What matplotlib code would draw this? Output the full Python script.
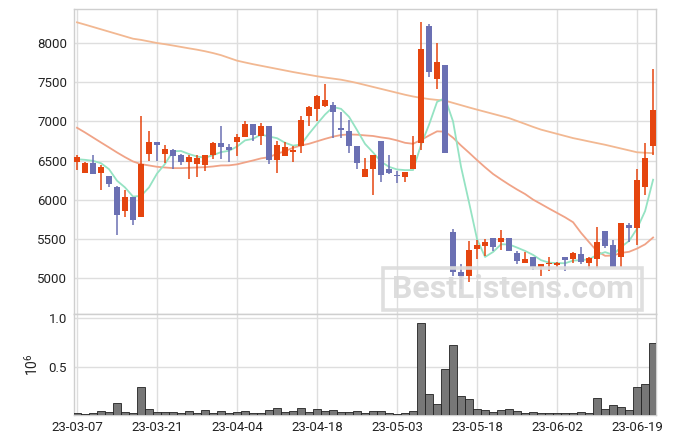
import matplotlib
matplotlib.use('Agg')
import matplotlib.pyplot as plt
import numpy as np
import pandas as pd
from matplotlib.patches import Rectangle

plt.rcParams['font.family'] = ['Roboto', 'DejaVu Sans']
plt.rcParams['mathtext.default'] = 'regular'

dates = ['23-03-07', '23-03-08', '23-03-09', '23-03-10', '23-03-13', '23-03-14', '23-03-15',
         '23-03-16', '23-03-17', '23-03-20', '23-03-21', '23-03-22', '23-03-23', '23-03-24',
         '23-03-27', '23-03-28', '23-03-29', '23-03-30', '23-03-31', '23-04-03', '23-04-04',
         '23-04-05', '23-04-06', '23-04-07', '23-04-10', '23-04-11', '23-04-12', '23-04-13',
         '23-04-14', '23-04-17', '23-04-18', '23-04-19', '23-04-20', '23-04-21', '23-04-24',
         '23-04-25', '23-04-26', '23-04-27', '23-04-28', '23-05-02', '23-05-03', '23-05-04',
         '23-05-08', '23-05-09', '23-05-10', '23-05-11', '23-05-12', '23-05-15', '23-05-16',
         '23-05-17', '23-05-18', '23-05-19', '23-05-22', '23-05-23', '23-05-24', '23-05-25',
         '23-05-26', '23-05-30', '23-05-31', '23-06-01', '23-06-02', '23-06-05', '23-06-07',
         '23-06-08', '23-06-09', '23-06-12', '23-06-13', '23-06-14', '23-06-15', '23-06-16',
         '23-06-19', '23-06-20', '23-06-21']

opens = [6476, 6348, 6467, 6348, 6306, 6157, 5863, 6038, 5778, 6587,
         6740, 6578, 6638, 6574, 6476, 6459, 6450, 6570, 6723, 6676,
         6736, 6804, 6966, 6816, 6936, 6502, 6565, 6617, 6680, 7063,
         7157, 7200, 7208, 6910, 6880, 6689, 6297, 6387, 6748, 6395,
         6312, 6297, 6399, 6723, 8217, 7540, 7719, 5586, 5076, 5033,
         5378, 5416, 5514, 5467, 5514, 5318, 5190, 5267, 5139, 5178,
         5169, 5267, 5241, 5305, 5199, 5250, 5603, 5420, 5276, 5680,
         5646, 6161, 6680]
closes = [6544, 6467, 6327, 6416, 6199, 5808, 6038, 5744, 6459, 6740,
          6693, 6651, 6553, 6476, 6544, 6536, 6570, 6723, 6668, 6629,
          6804, 6966, 6821, 6944, 6502, 6697, 6676, 6634, 7017, 7187,
          7323, 7276, 7115, 6900, 6680, 6475, 6395, 6570, 6314, 6348,
          6308, 6353, 6574, 7928, 7630, 7762, 6591, 5084, 5024, 5361,
          5425, 5459, 5403, 5514, 5352, 5224, 5246, 5148, 5178, 5195,
          5195, 5237, 5318, 5203, 5258, 5467, 5416, 5148, 5701, 5646,
          6255, 6531, 7149]
highs = [6574, 6476, 6574, 6446, 6306, 6170, 6127, 6038, 7072, 6880,
         6740, 6693, 6651, 6587, 6570, 6570, 6570, 6740, 6944, 6714,
         6838, 7004, 6966, 6980, 6936, 6744, 6736, 6680, 7063, 7200,
         7340, 7472, 7242, 7119, 7021, 6689, 6531, 6570, 6748, 6570,
         6370, 6353, 6808, 8268, 8247, 7996, 7719, 5625, 5178, 5471,
         5488, 5501, 5514, 5616, 5514, 5352, 5331, 5267, 5178, 5267,
         5210, 5267, 5331, 5395, 5275, 5659, 5603, 5488, 5701, 5700,
         6391, 6723, 7668]
lows = [6374, 6348, 6327, 6127, 6161, 5552, 5778, 5676, 5778, 6497,
        6497, 6467, 6391, 6446, 6263, 6289, 6361, 6519, 6519, 6480,
        6561, 6804, 6752, 6693, 6455, 6340, 6565, 6480, 6595, 6944,
        7008, 7180, 6787, 6782, 6595, 6391, 6290, 6063, 6225, 6330,
        6216, 6230, 6399, 6629, 7562, 7417, 6591, 5033, 4859, 4948,
        5241, 5284, 5352, 5361, 5352, 5178, 5190, 5105, 5029, 5092,
        5140, 5092, 5190, 5180, 5114, 5130, 5380, 5148, 5148, 5459,
        5425, 6063, 6574]
volumes = [0.03, 0.02, 0.03, 0.05, 0.04, 0.13, 0.04, 0.03, 0.30, 0.07,
           0.04, 0.04, 0.04, 0.03, 0.05, 0.03, 0.06, 0.03, 0.05, 0.03,
           0.04, 0.05, 0.03, 0.03, 0.06, 0.08, 0.04, 0.05, 0.08, 0.04,
           0.07, 0.05, 0.06, 0.04, 0.04, 0.05, 0.03, 0.05, 0.05, 0.03,
           0.02, 0.03, 0.05, 0.95, 0.23, 0.12, 0.48, 0.72, 0.21, 0.17,
           0.07, 0.06, 0.04, 0.06, 0.07, 0.05, 0.03, 0.04, 0.03, 0.03,
           0.03, 0.03, 0.03, 0.04, 0.03, 0.18, 0.07, 0.11, 0.09, 0.06,
           0.30, 0.33, 0.745]
prior_closes = [6507, 6392, 6566, 6581]
ma20_head = [6919, 6859, 6795, 6731, 6668, 6604, 6544, 6489, 6455, 6438,
             6421, 6412, 6404, 6404, 6408, 6412, 6416, 6425, 6438]
ma120 = [8264, 8235, 8205, 8175, 8145, 8115, 8085, 8055, 8040, 8020,
         8000, 7985, 7968, 7950, 7932, 7915, 7895, 7872, 7845, 7810,
         7775, 7752, 7730, 7710, 7690, 7670, 7650, 7630, 7612, 7594,
         7576, 7560, 7546, 7532, 7512, 7490, 7465, 7440, 7415, 7390,
         7365, 7340, 7318, 7300, 7285, 7274, 7265, 7236, 7207, 7178,
         7150, 7123, 7096, 7069, 7042, 7005, 6968, 6930, 6895, 6868,
         6841, 6814, 6787, 6766, 6744, 6723, 6702, 6678, 6654, 6630,
         6606, 6600, 6595]
tick_labels = ['23-03-07', '23-03-21', '23-04-04', '23-04-18', '23-05-03',
               '23-05-18', '23-06-02', '23-06-19']

UP = '#E5450F'
DOWN = '#6B70B3'
GRID = '#dedede'
SPINE = '#cfcfcf'

n = len(closes)
x = np.arange(n)
ma5 = pd.Series(prior_closes + closes).rolling(5).mean().to_numpy()[len(prior_closes):]
ma20 = pd.Series(closes).rolling(20).mean().to_numpy()
ma20[:len(ma20_head)] = ma20_head

fig = plt.figure(figsize=(6.74, 4.44), dpi=100)
ax1 = fig.add_axes([74/674, 1-314/444, 581.5/674, 305/444])
ax2 = fig.add_axes([74/674, 1-415/444, 581.5/674, 101/444], sharex=ax1)

for ax in (ax1, ax2):
    ax.set_facecolor('white')
    ax.grid(True, color=GRID, lw=1.0, zorder=0)
    ax.set_axisbelow(True)
    for s in ax.spines.values():
        s.set_color(SPINE)
        s.set_linewidth(1.0)
    ax.tick_params(length=0, pad=5, labelsize=9.5, colors='#222222')

ax1.plot(x, ma120, color='#F2B892', lw=1.3, zorder=2)
ax1.plot(x, ma20, color='#F0A387', lw=1.3, zorder=2)
ax1.plot(x, ma5, color='#95E3C3', lw=1.3, zorder=2)

for i in range(n):
    o, c, h, l = opens[i], closes[i], highs[i], lows[i]
    col = UP if c >= o else DOWN
    ax1.vlines(x[i], l, h, color=col, lw=1.1, zorder=3)
    body = max(abs(c - o), 22)
    bottom = min(o, c) if abs(c - o) >= 22 else (o + c) / 2 - 11
    ax1.bar(x[i], body, bottom=bottom, width=0.66, color=col, lw=0, zorder=4)

ax1.set_ylim(4543, 8434)
ax1.set_yticks([5000, 5500, 6000, 6500, 7000, 7500, 8000])
ax1.set_xlim(-0.375, 72.3)
ax1.tick_params(axis='x', labelbottom=False)

ax2.bar(x, volumes, width=1.0, color='#777777', edgecolor='#222222', lw=0.6, zorder=3)
ax2.set_ylim(0.012, 1.04)
ax2.set_yticks([0.5, 1.0])
ax2.set_yticklabels(['0.5', '1.0'])
tick_pos = [dates.index(t) for t in tick_labels]
ax2.set_xticks(tick_pos)
ax2.set_xticklabels(tick_labels)
ax2.tick_params(axis='x', pad=4)
ax2.set_ylabel(r'$10^6$', fontsize=10, color='#222222', labelpad=6)

# watermark
fig.patches.append(Rectangle((383/674, 1-310/444), 258.5/674, 42.5/444,
                             transform=fig.transFigure, fill=False,
                             edgecolor='#dcdcdc', lw=2.6, alpha=0.9, zorder=10))
fig.text(512.5/674, 1-289/444, 'BestListens.com', ha='center', va='center',
         fontsize=23, fontweight='bold', color='#dadada', alpha=0.9, zorder=11)

fig.savefig('out.png', dpi=100, facecolor='white')
